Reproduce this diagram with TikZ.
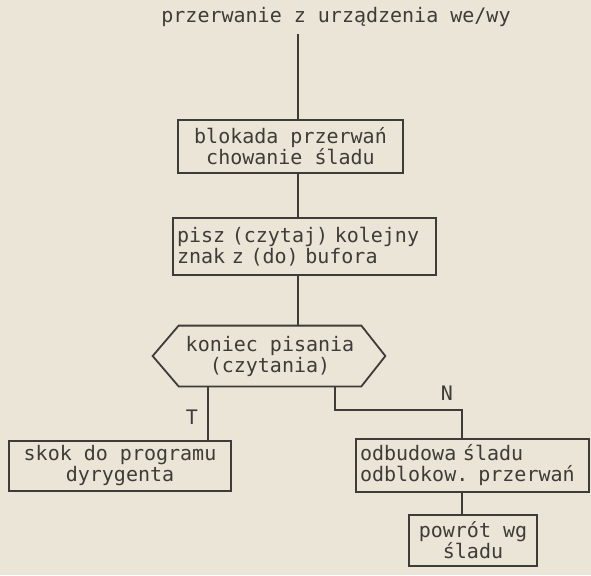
\documentclass[tikz,border=0pt]{standalone}
\usepackage{fontspec}
\newfontfamily\maszyna{DejaVu Sans Mono}
\definecolor{papier}{RGB}{234,229,214}
\definecolor{tusz}{RGB}{62,60,56}
\begin{document}
\begin{tikzpicture}[x=0.5pt,y=-0.5pt,color=tusz,
  font=\maszyna\fontsize{10}{10.5}\selectfont,
  ramka/.style={draw,line width=0.9pt,inner sep=2pt},
  linia/.style={line width=0.9pt}]
\fill[papier] (0,0) rectangle (591,575);
\useasboundingbox (0,0) rectangle (591,575);
\node (przerw) at (336,17) {przerwanie z urządzenia we/wy};
\node[ramka,minimum width=112.5pt,minimum height=26.5pt,align=center] (blok) at (290.5,146.5) {blokada przerwań\\chowanie śladu};
\node[ramka,minimum height=28.5pt,text width=127.5pt,align=left] (pisz) at (304.5,246.5) {pisz (czytaj) kolejny\\znak z (do) bufora};
\node[minimum width=90pt,minimum height=30pt,align=center] (hex) at (270,356) {koniec pisania\\(czytania)};
\draw[linia] (hex.north west) -- (hex.north east) -- ([xshift=12pt]hex.east) -- (hex.south east) -- (hex.south west) -- ([xshift=-13pt]hex.west) -- cycle;
\node[ramka,minimum width=111pt,minimum height=25pt,align=center] (skok) at (120,466) {skok do programu\\dyrygenta};
\node[ramka,minimum height=26.5pt,text width=112.5pt,align=left] (odbud) at (472.5,465.5) {odbudowa śladu\\odblokow. przerwań};
\node[ramka,minimum width=64pt,minimum height=25.5pt,align=center] (powrot) at (473,540.5) {powrót wg\\śladu};
\node (tak) at (192,417) {T};
\node (nie) at (447,393) {N};
% osie linii
\coordinate (os) at (298,0);
\coordinate (tx) at (208,0);
\coordinate (nx) at (335,0);
\coordinate (zalam) at (462,410);
\draw[linia] (os |- przerw.south) -- (os |- blok.north);
\draw[linia] (os |- blok.south) -- (os |- pisz.north);
\draw[linia] (os |- pisz.south) -- (os |- hex.north);
\draw[linia] (tx |- hex.south) -- (tx |- skok.north);
\draw[linia] (nx |- hex.south) |- (zalam) -- (zalam |- odbud.north);
\draw[linia] (zalam |- odbud.south) -- (zalam |- powrot.north);
\end{tikzpicture}
\end{document}
